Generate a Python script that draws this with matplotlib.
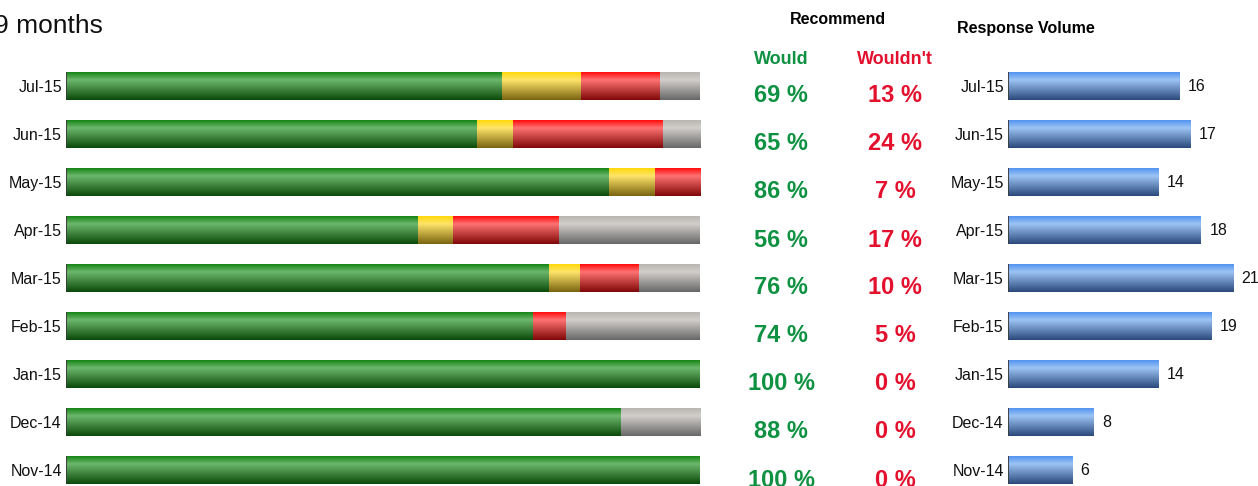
import numpy as np
import matplotlib.pyplot as plt
from matplotlib.colors import LinearSegmentedColormap

plt.rcParams['font.family'] = ['Liberation Sans', 'DejaVu Sans']

months = ['Jul-15', 'Jun-15', 'May-15', 'Apr-15', 'Mar-15', 'Feb-15', 'Jan-15', 'Dec-14', 'Nov-14']
# bar segments (share of responses, %)
would = [68.7, 64.8, 85.7, 55.5, 76.2, 73.7, 100, 87.5, 100]
passive = [12.5, 5.7, 7.2, 5.6, 4.8, 0, 0, 0, 0]
wouldnt = [12.5, 23.6, 7.1, 16.7, 9.4, 5.2, 0, 0, 0]
no_answer = [6.3, 5.9, 0, 22.2, 9.6, 21.1, 0, 12.5, 0]
# printed recommend figures
would_pct = [69, 65, 86, 56, 76, 74, 100, 88, 100]
wouldnt_pct = [13, 24, 7, 17, 10, 5, 0, 0, 0]
volume = [16, 17, 14, 18, 21, 19, 14, 8, 6]

W, H = 1258, 486
fig = plt.figure(figsize=(W / 100, H / 100), dpi=100)

ypos = np.arange(len(months))[::-1]
bh = 0.6
GREEN_TXT = '#0f9142'
RED_TXT = '#e3102e'


def grad_fill(ax, bars, top, light, bottom):
    cmap = LinearSegmentedColormap.from_list('g', [(0, top), (0.3, light), (1, bottom)])
    g = np.linspace(0, 1, 64).reshape(-1, 1)
    for b in bars:
        if b.get_width() <= 0:
            continue
        x0, y0 = b.get_x(), b.get_y()
        im = ax.imshow(g, cmap=cmap, extent=[x0, x0 + b.get_width(), y0, y0 + b.get_height()],
                       origin='upper', aspect='auto', interpolation='bilinear', zorder=3)
        im.set_clip_path(b)


def style(ax, xmax):
    ax.set_xlim(0, xmax)
    ax.set_ylim(-16 / 48, 470 / 48)
    for s in ax.spines.values():
        s.set_visible(False)
    ax.set_xticks([])
    ax.set_yticks(ypos)
    ax.set_yticklabels(months, fontsize=11.5, color='#111111')
    ax.tick_params(axis='y', length=0, pad=3)
    ax.vlines(np.zeros(len(ypos)), ypos - bh / 2, ypos + bh / 2, color='#3a3a3a', lw=1.3, zorder=5)


# left: stacked recommend bars
ax = fig.add_axes([66 / W, 0, 634 / W, 1])
left = np.zeros(len(months))
segs = [
    (would, ('#0c800c', '#6db76d', '#0b4a0b')),
    (passive, ('#ffd700', '#ffe46a', '#7a6410')),
    (wouldnt, ('#ff0000', '#ff7272', '#800808')),
    (no_answer, ('#b6b2ae', '#d2cecb', '#686868')),
]
for vals, cols in segs:
    bars = ax.barh(ypos, vals, left=left, height=bh, color=cols[1], lw=0)
    grad_fill(ax, bars, *cols)
    left += np.array(vals)
style(ax, 100)

# right: response volume
ax2 = fig.add_axes([1008 / W, 0, 250 / W, 1])
bars = ax2.barh(ypos, volume, height=bh, color='#7aa8e8', lw=0)
grad_fill(ax2, bars, '#4a8ef0', '#9cc4f4', '#2c4a7c')
style(ax2, 250 / 10.72)
for y, v in zip(ypos, volume):
    ax2.annotate(str(v), (v, y), xytext=(6, 0), textcoords='offset points',
                 va='center', ha='left', fontsize=11.5, color='#111111')

# middle: recommend percentages
fig.text(838 / W, 1 - 19 / H, 'Recommend', ha='center', va='center', fontsize=11.5, fontweight='bold')
fig.text(781 / W, 1 - 59 / H, 'Would', ha='center', va='center', fontsize=13, fontweight='bold', color=GREEN_TXT)
fig.text(895 / W, 1 - 59 / H, "Wouldn't", ha='center', va='center', fontsize=13, fontweight='bold', color=RED_TXT)
for i, (a, b) in enumerate(zip(would_pct, wouldnt_pct)):
    yp = 1 - (96 + 48 * i) / H
    fig.text(781 / W, yp, f'{a} %', ha='center', va='center', fontsize=17, fontweight='bold', color=GREEN_TXT)
    fig.text(895 / W, yp, f'{b} %', ha='center', va='center', fontsize=17, fontweight='bold', color=RED_TXT)

fig.text(957 / W, 1 - 28 / H, 'Response Volume', ha='left', va='center', fontsize=11.5, fontweight='bold')
fig.text(-6 / W, 1 - 26 / H, '9 months', ha='left', va='center', fontsize=19, color='#111111')

fig.savefig('out.png', dpi=100)
